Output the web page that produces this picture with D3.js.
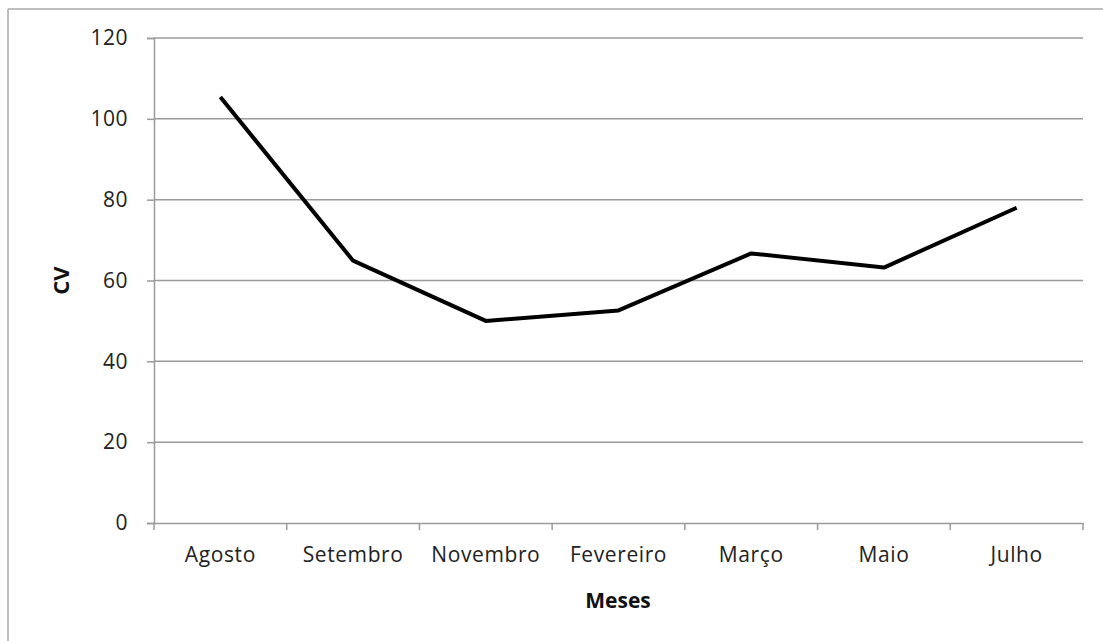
<!DOCTYPE html>
<html>
<head>
<meta charset="utf-8">
<script src="https://cdn.jsdelivr.net/npm/d3@7"></script>
<style>
  html, body { margin: 0; padding: 0; background: #fff; }
  svg { display: block; }
  text { font-family: "Open Sans", Lato, sans-serif; }
</style>
</head>
<body>
<svg id="chart" width="1103" height="641"></svg>
<script>
const categories = ["Agosto", "Setembro", "Novembro", "Fevereiro", "Março", "Maio", "Julho"];
const cvValues = [105.4, 64.9, 50.0, 52.6, 66.7, 63.2, 78.0];
const yTicks = [0, 20, 40, 60, 80, 100, 120];
const xTitle = "Meses";
const yTitle = "CV";

const svg = d3.select("#chart");
const m = { left: 154, right: 1083, top: 38, bottom: 523 };
const FONT = "'Open Sans', Lato, sans-serif";

// outer frame (left & top visible)
svg.append("line").attr("x1", 8).attr("x2", 8).attr("y1", 9).attr("y2", 641)
  .attr("stroke", "#aaa").attr("stroke-width", 1.5);
svg.append("line").attr("x1", 8).attr("x2", 1103).attr("y1", 9).attr("y2", 9)
  .attr("stroke", "#aaa").attr("stroke-width", 1.5);

const x = d3.scaleBand().domain(categories).range([m.left, m.right]).padding(0);
const y = d3.scaleLinear().domain([0, 120]).range([m.bottom, m.top]);

// gridlines
svg.append("g").selectAll("line").data(yTicks.filter(d => d > 0)).join("line")
  .attr("x1", m.left).attr("x2", m.right)
  .attr("y1", d => y(d)).attr("y2", d => y(d))
  .attr("stroke", "#9a9a9a").attr("stroke-width", 1.5);

// y axis
const yAxis = svg.append("g").attr("transform", `translate(${m.left},0)`)
  .call(d3.axisLeft(y).tickValues(yTicks).tickSize(7).tickPadding(19));
yAxis.select(".domain").attr("stroke", "#9a9a9a").attr("stroke-width", 1.5);
yAxis.selectAll(".tick line").attr("stroke", "#9a9a9a").attr("stroke-width", 1.5);
yAxis.selectAll(".tick text").attr("font-size", 21).attr("fill", "#222")
  .attr("letter-spacing", 0.5).style("font-family", FONT);

// x axis
const xAxis = svg.append("g").attr("transform", `translate(0,${m.bottom})`)
  .call(d3.axisBottom(x).tickSize(0).tickPadding(24));
xAxis.select(".domain").attr("stroke", "#9a9a9a").attr("stroke-width", 1.5);
xAxis.selectAll(".tick text").attr("font-size", 21).attr("fill", "#222")
  .attr("letter-spacing", 0.6).style("font-family", FONT);
// boundary tick marks
const bounds = categories.map(c => x(c)).concat([x(categories[categories.length - 1]) + x.bandwidth()]);
svg.append("g").selectAll("line").data(bounds).join("line")
  .attr("x1", d => d).attr("x2", d => d)
  .attr("y1", m.bottom).attr("y2", m.bottom + 7)
  .attr("stroke", "#9a9a9a").attr("stroke-width", 1.5);

// line
const line = d3.line()
  .x((d, i) => x(categories[i]) + x.bandwidth() / 2)
  .y(d => y(d));
svg.append("path").datum(cvValues)
  .attr("d", line)
  .attr("fill", "none").attr("stroke", "#000").attr("stroke-width", 4)
  .attr("stroke-linejoin", "round");

// titles
svg.append("text").attr("x", 618).attr("y", 608)
  .attr("text-anchor", "middle").attr("font-size", 21).attr("font-weight", "bold")
  .attr("fill", "#111").style("font-family", FONT).text(xTitle);
svg.append("text").attr("transform", `translate(69,${(m.top + m.bottom) / 2}) rotate(-90)`)
  .attr("text-anchor", "middle").attr("font-size", 22).attr("font-weight", "bold")
  .attr("fill", "#111").style("font-family", FONT).text(yTitle);
</script>
</body>
</html>
